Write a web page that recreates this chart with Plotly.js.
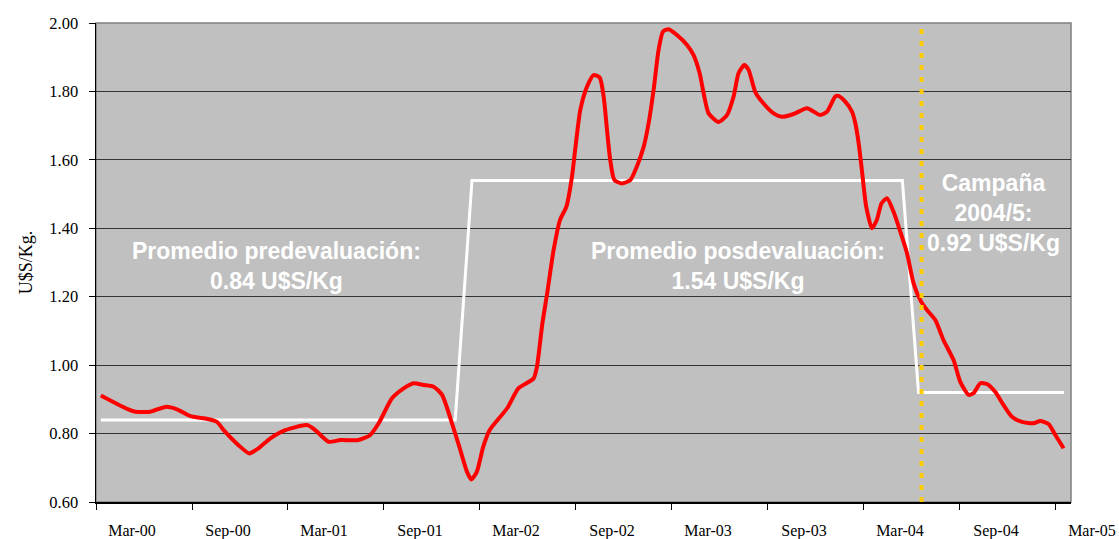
<!DOCTYPE html>
<html>
<head>
<meta charset="utf-8">
<script src="https://cdn.plot.ly/plotly-3.0.1.min.js"></script>
<style>html,body{margin:0;padding:0;background:#fff;}#chart{width:1119px;height:539px;}</style>
</head>
<body>
<div id="chart"></div>
<script>
// months since January 2000
const months = [0.30,1.94,2.46,3.40,4.33,5.06,5.90,6.83,7.56,7.98,8.91,9.58,10.16,10.90,11.83,13.19,13.70,14.54,15.27,16.40,17.14,17.67,18.50,19.23,19.85,20.48,21.10,21.63,22.25,22.77,23.19,23.46,23.80,24.20,24.60,25.70,26.40,27.35,27.56,27.90,28.20,28.60,29.00,29.40,29.75,29.97,30.27,30.69,31.10,31.48,31.73,31.94,32.14,32.40,32.87,33.40,33.80,34.23,34.54,34.85,35.16,35.44,35.79,36.31,36.94,37.35,37.73,37.98,38.29,38.91,39.44,39.85,40.16,40.52,40.79,41.20,41.63,42.35,42.88,43.60,44.44,45.27,45.69,46.20,46.40,46.83,47.25,47.46,47.67,47.87,48.14,48.50,48.80,49.10,49.44,49.85,50.27,50.69,51.10,51.52,51.94,52.46,52.97,53.60,54.02,54.54,54.85,55.27,55.69,56.20,56.73,57.25,57.88,58.60,59.02,59.54,59.96,60.48];
const priceUSDkg = [0.911,0.872,0.864,0.864,0.878,0.871,0.851,0.844,0.834,0.810,0.766,0.742,0.757,0.786,0.810,0.825,0.810,0.776,0.781,0.781,0.796,0.830,0.903,0.932,0.947,0.942,0.937,0.913,0.830,0.752,0.688,0.666,0.688,0.761,0.810,0.874,0.932,0.961,0.995,1.122,1.210,1.336,1.424,1.463,1.551,1.638,1.746,1.814,1.848,1.841,1.785,1.687,1.600,1.541,1.531,1.541,1.580,1.638,1.707,1.804,1.921,1.975,1.982,1.965,1.936,1.906,1.853,1.794,1.736,1.711,1.731,1.785,1.853,1.877,1.863,1.799,1.770,1.736,1.726,1.734,1.751,1.731,1.741,1.785,1.787,1.770,1.741,1.707,1.648,1.570,1.463,1.400,1.424,1.473,1.488,1.448,1.390,1.327,1.239,1.190,1.161,1.132,1.073,1.015,0.951,0.913,0.918,0.947,0.945,0.922,0.883,0.849,0.834,0.830,0.837,0.828,0.796,0.757];

// period averages (step line)
const avgMonths = [0.30, 22.45, 23.50, 50.40, 51.41, 60.50];
const avgValues = [0.84, 0.84, 1.54, 1.54, 0.92, 0.92];

// start of 2004/5 campaign
const campaignMonth = [51.6, 51.6];
const campaignSpan = [0.6, 2.0];

// axes
const tickMonths = [0,6,12,18,24,30,36,42,48,54,60];
const labelText = ['Mar-00','Sep-00','Mar-01','Sep-01','Mar-02','Sep-02','Mar-03','Sep-03','Mar-04','Sep-04','Mar-05'];
const yTicks = [0.6,0.8,1.0,1.2,1.4,1.6,1.8,2.0];

const xRange = [0, 60.94];
const serif = 'Liberation Serif, Times New Roman, serif';

const traces = [
  {x: avgMonths, y: avgValues, mode: 'lines', line: {color: '#FFFFFF', width: 3}, hoverinfo: 'skip'},
  {x: months, y: priceUSDkg, mode: 'lines', line: {color: '#FF0000', width: 4, shape: 'spline', smoothing: 0.6}},
  {x: campaignMonth, y: campaignSpan, mode: 'lines', line: {color: '#FFCC00', width: 4, dash: '5px,7px'}, hoverinfo: 'skip'}
];

const annFont = {family: 'Liberation Sans, Arial, sans-serif', size: 23, color: '#FFFFFF', weight: 'bold'};

const layout = {
  width: 1119, height: 539,
  margin: {l: 96, r: 48, t: 23, b: 37},
  paper_bgcolor: '#FFFFFF',
  plot_bgcolor: '#C0C0C0',
  showlegend: false,
  font: {family: serif, size: 16, color: '#000'},
  xaxis: {
    range: xRange, tickvals: tickMonths, ticktext: labelText,
    ticks: 'outside', ticklen: 6, tickcolor: '#000', tickwidth: 1,
    ticklabelshift: 36, ticklabelstandoff: 7,
    tickfont: {family: serif, size: 16, color: '#000'},
    showgrid: false, zeroline: false, showline: true, linecolor: '#000', linewidth: 1.5
  },
  yaxis: {
    range: [0.6, 2.0], tickvals: yTicks, tickformat: '.2f',
    ticks: 'outside', ticklen: 6, tickcolor: '#000',
    showgrid: true, gridcolor: '#333333', gridwidth: 1,
    zeroline: false, showline: true, linecolor: '#000', linewidth: 1.5,
    ticklabelstandoff: 7,
    tickfont: {family: serif, size: 16.5, color: '#000'},
    title: {text: 'U$S/Kg.', standoff: 12, font: {family: serif, size: 18, color: '#000'}}
  },
  shapes: [
    {type: 'rect', xref: 'paper', yref: 'paper', x0: 0, x1: 1, y0: 0, y1: 1, line: {color: '#808080', width: 1.5}, layer: 'below'}
  ],
  annotations: [
    {x: 11.3, y: 1.29, xref: 'x', yref: 'y', text: 'Promedio predevaluación:<br>0.84 U$S/Kg', showarrow: false, font: annFont, align: 'center'},
    {x: 40.1, y: 1.29, xref: 'x', yref: 'y', text: 'Promedio posdevaluación:<br>1.54 U$S/Kg', showarrow: false, font: annFont, align: 'center'},
    {x: 56.1, y: 1.445, xref: 'x', yref: 'y', text: 'Campaña<br>2004/5:<br>0.92 U$S/Kg', showarrow: false, font: annFont, align: 'center'}
  ]
};

Plotly.newPlot('chart', traces, layout, {displayModeBar: false, staticPlot: true});
</script>
</body>
</html>
